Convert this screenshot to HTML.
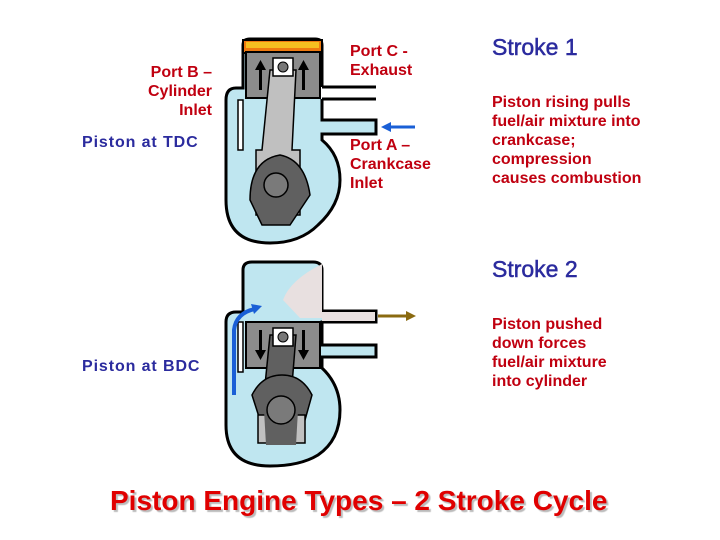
<!DOCTYPE html>
<html><head><style>
body{margin:0;background:#fff;}
#c{position:relative;width:720px;height:540px;overflow:hidden;font-family:"Liberation Sans",sans-serif;font-weight:bold;}
.t{position:absolute;font-size:16px;line-height:19px;color:#c00010;}
.b{color:#2b2b9e;letter-spacing:0.9px;}
.s{position:absolute;font-size:23px;color:#2b2b9e;font-weight:normal;-webkit-text-stroke:0.5px #2b2b9e;}
.r{text-align:right;}
</style></head><body><div id="c">
<svg width="720" height="540" style="position:absolute;left:0;top:0">
<!-- TOP ENGINE -->
<g stroke="#000" stroke-width="3">
<path d="M243,52 L243,88 L236,88 Q226,88 226,100 L226,200 Q226,243 270,243 Q300,243 318,225 Q340,205 340,180 Q340,155 322,140 L322,134 L376,134 L376,120 L322,120 L322,99" fill="#bfe6f0"/>
<path d="M243,52 L243,45 Q243,39 250,39 L315,39 Q322,39 322,45 L322,87" fill="none"/>
</g>
<rect x="243" y="40" width="79" height="13" fill="#f07a10" stroke="#000" stroke-width="2"/>
<rect x="246" y="42" width="73" height="6" fill="#f6c020"/>
<line x1="322" y1="87" x2="376" y2="87" stroke="#000" stroke-width="3"/>
<line x1="322" y1="99" x2="376" y2="99" stroke="#000" stroke-width="3"/>
<rect x="238" y="100" width="5" height="50" fill="#fff" stroke="#000" stroke-width="1.5"/>
<rect x="246" y="52" width="74" height="46" fill="#8c8c8c" stroke="#000" stroke-width="2"/>
<path d="M270,70 L296,70 L292,150 L300,150 L300,215 L256,215 L256,150 L262,150 Z" fill="#c0c0c0" stroke="#000" stroke-width="1.5"/>
<path d="M250,200 Q250,160 280,155 Q305,160 310,195 L290,225 L262,225 Z" fill="#606060" stroke="#000" stroke-width="1.5"/>
<circle cx="276" cy="185" r="12" fill="#7a7a7a" stroke="#000" stroke-width="1.5"/>
<rect x="273" y="58" width="20" height="18" fill="#fff" stroke="#000" stroke-width="1.5"/>
<circle cx="283" cy="67" r="5" fill="#777" stroke="#000"/>
<g fill="#000"><rect x="259" y="68" width="3" height="22"/><path d="M255,70 L260.5,60 L266,70Z"/>
<rect x="302" y="68" width="3" height="22"/><path d="M298,70 L303.5,60 L309,70Z"/></g>
<line x1="415" y1="127" x2="388" y2="127" stroke="#1a5fd6" stroke-width="3"/>
<path d="M381,127 L391,122 L391,132Z" fill="#1a5fd6"/>
<!-- BOTTOM ENGINE -->
<path d="M243,312 L243,270 Q243,262 252,262 L313,262 Q322,262 322,270 L322,311 L376,311 L376,322 L322,322 L322,345 L376,345 L376,357 L322,357 L322,368 Q340,385 340,410 Q340,440 318,455 Q300,466 270,466 Q226,466 226,425 L226,322 Q226,312 236,312 Z" fill="#bfe6f0" stroke="#000" stroke-width="3"/>
<path d="M322,264 Q290,280 283,300 L300,318 L322,318 Z" fill="#e8e0e0"/>
<rect x="322" y="312" width="53" height="9" fill="#e8e0e0"/>
<rect x="238" y="322" width="5" height="50" fill="#fff" stroke="#000" stroke-width="1.5"/>
<rect x="246" y="322" width="74" height="46" fill="#8c8c8c" stroke="#000" stroke-width="2"/>
<path d="M270,335 L296,335 L292,385 L265,385 Z" fill="#606060" stroke="#000" stroke-width="1.5"/>
<path d="M252,395 Q262,375 282,375 Q302,375 312,395 L305,420 L260,420 Z" fill="#606060" stroke="#000" stroke-width="1.5"/>
<path d="M258,415 L305,415 L305,443 L258,443 Z" fill="#c0c0c0" stroke="#000" stroke-width="1.5"/>
<path d="M264,410 L298,410 L296,445 L266,445 Z" fill="#606060"/>
<circle cx="281" cy="410" r="14" fill="#7a7a7a" stroke="#000" stroke-width="1.5"/>
<rect x="273" y="328" width="20" height="18" fill="#fff" stroke="#000" stroke-width="1.5"/>
<circle cx="283" cy="337" r="5" fill="#777" stroke="#000"/>
<g fill="#000"><rect x="259" y="330" width="3" height="22"/><path d="M255,350 L260.5,360 L266,350Z"/>
<rect x="302" y="330" width="3" height="22"/><path d="M298,350 L303.5,360 L309,350Z"/></g>
<path d="M234,395 L234,330 Q236,313 255,309" fill="none" stroke="#1a5fd6" stroke-width="4"/>
<path d="M262,306 L251,304 L254,314Z" fill="#1a5fd6"/>
<line x1="378" y1="316" x2="407" y2="316" stroke="#8a6a10" stroke-width="3"/>
<path d="M416,316 L406,311 L406,321Z" fill="#8a6a10"/>
</svg>
<div class="t r" style="left:112px;top:63px;width:100px">Port B –<br>Cylinder<br>Inlet</div>
<div class="t b" style="left:82px;top:133px">Piston at TDC</div>
<div class="t" style="left:350px;top:42px">Port C -<br>Exhaust</div>
<div class="t" style="left:350px;top:136px">Port A –<br>Crankcase<br>Inlet</div>
<div class="s" style="left:492px;top:34px">Stroke 1</div>
<div class="t" style="left:492px;top:93px">Piston rising pulls<br>fuel/air mixture into<br>crankcase;<br>compression<br>causes combustion</div>
<div class="s" style="left:492px;top:256px">Stroke 2</div>
<div class="t" style="left:492px;top:315px">Piston pushed<br>down forces<br>fuel/air mixture<br>into cylinder</div>
<div class="t b" style="left:82px;top:357px">Piston at BDC</div>
<div style="position:absolute;left:110px;top:485px;font-size:28px;color:#e00000;text-shadow:2px 2px 1px #bbb;white-space:nowrap">Piston Engine Types – 2 Stroke Cycle</div>
</div></body></html>
